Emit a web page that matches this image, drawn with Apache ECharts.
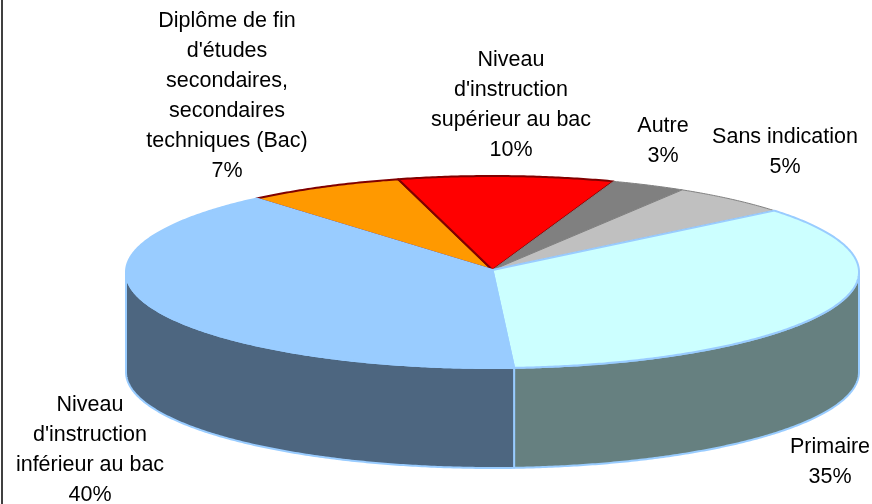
<!DOCTYPE html>
<html>
<head>
<meta charset="utf-8">
<style>html,body{margin:0;padding:0;background:#fff}#c{width:872px;height:504px}</style>
<script src="https://cdn.jsdelivr.net/npm/echarts@6/dist/echarts.min.js"></script>
</head>
<body>
<div id="c"></div>
<script>
var categories = ["Diplôme de fin\nd'études\nsecondaires,\nsecondaires\ntechniques (Bac)", "Niveau\nd'instruction\nsupérieur au bac", "Autre", "Sans indication", "Primaire", "Niveau\nd'instruction\ninférieur au bac"];
var values = [7, 9.5, 3.3, 5.3, 35.1, 39.8];
var topColors = ['#FF9900', '#FF0000', '#808080', '#C0C0C0', '#CCFFFF', '#99CCFF'];
var sideColors = ['#805000', '#800000', '#404040', '#606060', '#668080', '#4D6680'];
var edgeColors = ['#800000', '#800000', '#808080', '#808080', '#99CCFF', '#99CCFF'];
var labelCenters = [[227, 96], [511, 105], [663, 141], [785, 152], [830, 462], [90, 450]];

var CX = 492.5, CY = 272, RX = 366.5, RY = 96, DEPTH = 100, START = 229.9;
var total = values.reduce(function (a, b) { return a + b; }, 0);
function pt(deg, dy) {
  var r = deg * Math.PI / 180;
  return [CX + RX * Math.cos(r), CY + RY * Math.sin(r) + (dy || 0)];
}
function arc(a, b, dy) {
  var out = [], n = Math.max(2, Math.ceil(Math.abs(b - a) * 2));
  for (var i = 0; i <= n; i++) out.push(pt(a + (b - a) * i / n, dy));
  return out;
}
function sliceRange(idx) {
  var s = START;
  for (var i = 0; i < idx; i++) s += values[i] / total * 360;
  return [s, s + values[idx] / total * 360];
}
function renderSlice(params, api) {
  var i = params.dataIndex, r = sliceRange(i), children = [];
  // front wall: parts of the slice lying in the lower half of the ellipse
  [0, 360].forEach(function (off) {
    var a = Math.max(r[0] - off, 0), b = Math.min(r[1] - off, 180);
    if (b > a) {
      var top = arc(a, b, 0), bot = arc(b, a, DEPTH);
      children.push({
        type: 'polygon', z2: 1, shape: { points: top.concat(bot) },
        style: { fill: sideColors[i], stroke: edgeColors[i], lineWidth: 2, lineJoin: 'round' }
      });
    }
  });
  children.push({
    type: 'polygon', z2: 2 + i,
    shape: { points: [[CX, CY - 2]].concat(arc(r[0], r[1], 0)) },
    style: { fill: topColors[i], stroke: edgeColors[i], lineWidth: i < 2 || i > 3 ? 2 : 1, lineJoin: 'round' }
  });
  return { type: 'group', children: children };
}

var chart = echarts.init(document.getElementById('c'), null, { renderer: 'canvas' });
var labelGraphics = categories.map(function (name, i) {
  var pct = Math.round(values[i] / total * 100) + '%';
  return {
    type: 'text', x: labelCenters[i][0], y: labelCenters[i][1], z: 20,
    style: {
      text: name + '\n' + pct, align: 'center', verticalAlign: 'middle',
      font: '21.5px "Liberation Sans", Arial, sans-serif', lineHeight: 30, fill: '#000'
    }
  };
});
chart.setOption({
  animation: false,
  backgroundColor: '#fff',
  graphic: [{
    type: 'rect', z: 0, silent: true,
    shape: { x: 1, y: 0, width: 2, height: 504 },
    style: { fill: '#404040' }
  }].concat(labelGraphics),
  series: [{
    type: 'custom', coordinateSystem: 'none', silent: true,
    data: values, renderItem: renderSlice
  }]
});
</script>
</body>
</html>
